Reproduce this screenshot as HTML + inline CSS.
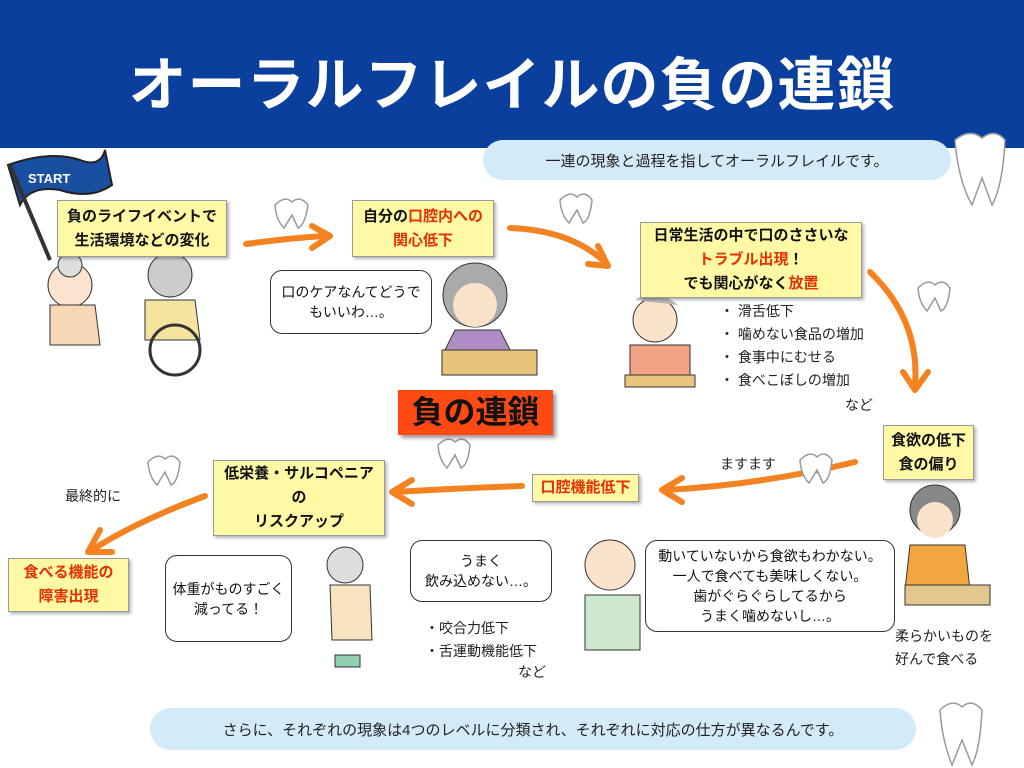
<!DOCTYPE html>
<html><head><meta charset="utf-8"><style>
body{margin:0;width:1024px;height:768px;position:relative;background:#fff;font-family:"Liberation Sans","Noto Sans CJK JP",sans-serif;overflow:hidden}
.hdr{position:absolute;left:0;top:0;width:1024px;height:148px;background:#0b3f9d}
.title{position:absolute;left:0;top:38px;width:1024px;text-align:center;color:#fff;font-size:58px;font-weight:bold;letter-spacing:1px}
.pill{position:absolute;background:#d3ebf8;border-radius:22px;font-size:15px;color:#222;display:flex;align-items:center;justify-content:center}
.yb{position:absolute;background:#fff9a6;border:1px solid #999;box-shadow:2px 2px 3px rgba(0,0,0,.3);font-size:15px;font-weight:bold;text-align:center;line-height:24px;display:flex;flex-direction:column;justify-content:center;color:#111}
.r{color:#e53000}
.sp{position:absolute;background:#fff;border:1.5px solid #333;border-radius:12px;font-size:14px;text-align:center;display:flex;flex-direction:column;justify-content:center;line-height:20px;color:#111}
.t{position:absolute;font-size:14px;color:#222;line-height:23px}
</style></head><body>
<div class="hdr"></div>
<div class="title">オーラルフレイルの負の連鎖</div>
<div class="pill" style="left:483px;top:140px;width:468px;height:40px">一連の現象と過程を指してオーラルフレイルです。</div>
<div class="pill" style="left:150px;top:708px;width:766px;height:42px">さらに、それぞれの現象は4つのレベルに分類され、それぞれに対応の仕方が異なるんです。</div>

<svg width="1024" height="768" style="position:absolute;left:0;top:0">
<g fill="none" stroke="#f58220" stroke-width="6" stroke-linecap="round" stroke-linejoin="round">
<path d="M246 244 Q290 238 325 236"/><path d="M312 226 L330 236 L312 248"/>
<path d="M510 228 Q570 230 605 262"/><path d="M598 246 L608 266 L588 264"/>
<path d="M870 272 Q920 320 915 385"/><path d="M903 372 L915 390 L928 372"/>
<path d="M855 462 Q760 485 665 490"/><path d="M682 478 L662 490 L682 502"/>
<path d="M522 486 Q460 488 395 492"/><path d="M412 480 L392 492 L412 504"/>
<path d="M205 496 Q140 520 95 548"/><path d="M100 530 L88 552 L112 552"/>
</g>
<!-- flag -->
<path d="M8 165 Q50 150 80 160 Q100 168 105 150 L112 185 Q90 200 60 190 Q30 185 20 205 Z" fill="#1a4fa0" stroke="#222" stroke-width="2"/>
<line x1="10" y1="165" x2="50" y2="260" stroke="#333" stroke-width="4"/>
<text x="28" y="183" fill="#fff" font-size="13" font-weight="bold" font-family="Liberation Sans">START</text>
<!-- people approximations -->
<circle cx="70" cy="285" r="22" fill="#fbe4cf" stroke="#333"/><circle cx="70" cy="265" r="12" fill="#ddd" stroke="#333"/>
<path d="M50 305 L95 305 L100 345 L50 345Z" fill="#f6d8b4" stroke="#333"/>
<circle cx="170" cy="275" r="22" fill="#ccc" stroke="#333"/><path d="M145 300 L195 300 L200 340 L145 340Z" fill="#f5e3a0" stroke="#333"/>
<circle cx="175" cy="350" r="25" fill="none" stroke="#333" stroke-width="3"/>
<circle cx="475" cy="295" r="32" fill="#aaa" stroke="#333"/><circle cx="475" cy="305" r="22" fill="#fbe2cb"/>
<path d="M455 330 L500 330 L510 350 L445 350Z" fill="#b08cc4" stroke="#333"/>
<rect x="442" y="350" width="95" height="25" fill="#e6c27a" stroke="#333"/>
<circle cx="655" cy="320" r="22" fill="#fbe2cb" stroke="#333"/><path d="M635 300 Q655 285 678 305" fill="#bbb"/>
<rect x="630" y="345" width="60" height="35" fill="#f3a285" stroke="#333"/>
<rect x="625" y="375" width="70" height="12" fill="#e9c57c" stroke="#333"/>
<circle cx="610" cy="565" r="25" fill="#fbe2cb" stroke="#333"/><path d="M585 595 L640 595 L640 650 L585 650Z" fill="#cde8cf" stroke="#333"/>
<circle cx="345" cy="565" r="18" fill="#ddd" stroke="#333"/><path d="M330 585 L370 585 L372 640 L332 640Z" fill="#f6e3c0" stroke="#333"/>
<rect x="335" y="655" width="25" height="12" fill="#8fd0b0" stroke="#333"/>
<circle cx="935" cy="510" r="25" fill="#888" stroke="#333"/><circle cx="935" cy="520" r="18" fill="#fbe2cb"/>
<path d="M910 545 L965 545 L970 590 L905 590Z" fill="#f2a640" stroke="#333"/>
<rect x="905" y="585" width="85" height="20" fill="#e2c88e" stroke="#333"/>
<!-- teeth -->
<g fill="#fff" stroke="#999" stroke-width="1.5">
<path d="M275 205 Q285 195 292 202 Q300 195 308 205 Q305 225 298 228 L292 215 L284 228 Q276 220 275 205Z"/>
<path d="M560 200 Q570 190 577 197 Q585 190 592 200 Q590 220 583 223 L577 210 L569 223 Q561 215 560 200Z"/>
<path d="M918 288 Q928 278 935 285 Q943 278 950 288 Q948 308 941 311 L935 298 L927 311 Q919 303 918 288Z"/>
<path d="M800 460 Q810 450 817 457 Q825 450 832 460 Q830 480 823 483 L817 470 L809 483 Q801 475 800 460Z"/>
<path d="M438 445 Q448 435 455 442 Q463 435 470 445 Q468 465 461 468 L455 455 L447 468 Q439 460 438 445Z"/>
<path d="M148 462 Q158 452 165 459 Q173 452 180 462 Q178 482 171 485 L165 472 L157 485 Q149 477 148 462Z"/>
<path d="M955 140 Q970 128 982 138 Q995 128 1005 140 Q1003 185 992 205 L982 178 L972 205 Q958 180 955 140Z"/>
<path d="M940 710 Q952 698 962 707 Q972 698 982 710 Q980 750 972 765 L962 740 L952 765 Q942 740 940 710Z"/>
</g>
</svg>

<div class="yb" style="left:57px;top:200px;width:168px;height:55px"><div>負のライフイベントで</div><div>生活環境などの変化</div></div>
<div class="yb" style="left:352px;top:200px;width:140px;height:55px"><div>自分の<span class="r">口腔内への</span></div><div class="r">関心低下</div></div>
<div class="yb" style="left:640px;top:222px;width:220px;height:74px"><div>日常生活の中で口のささいな</div><div><span class="r">トラブル出現</span>！</div><div>でも関心がなく<span class="r">放置</span></div></div>
<div class="yb" style="left:883px;top:425px;width:89px;height:53px"><div>食欲の低下</div><div>食の偏り</div></div>
<div class="yb" style="left:532px;top:474px;width:105px;height:26px;color:#e53000">口腔機能低下</div>
<div class="yb" style="left:213px;top:460px;width:170px;height:74px"><div>低栄養・サルコペニア</div><div>の</div><div>リスクアップ</div></div>
<div class="yb" style="left:8px;top:558px;width:119px;height:52px;color:#e53000"><div>食べる機能の</div><div>障害出現</div></div>
<div style="position:absolute;left:398px;top:390px;width:155px;height:45px;background:#ff4a14;box-shadow:3px 3px 4px rgba(0,0,0,.4);font-size:32px;font-weight:bold;text-align:center;line-height:45px;color:#111">負の連鎖</div>

<div class="sp" style="left:270px;top:270px;width:160px;height:62px"><div>口のケアなんてどうで</div><div>もいいわ…。</div></div>
<div class="sp" style="left:410px;top:540px;width:140px;height:60px"><div>うまく</div><div>飲み込めない…。</div></div>
<div class="sp" style="left:645px;top:540px;width:248px;height:90px"><div>動いていないから食欲もわかない。</div><div>一人で食べても美味しくない。</div><div>歯がぐらぐらしてるから</div><div>うまく噛めないし…。</div></div>
<div class="sp" style="left:165px;top:555px;width:125px;height:85px"><div>体重がものすごく</div><div>減ってる！</div></div>

<div class="t" style="left:720px;top:300px">・ 滑舌低下<br>・ 噛めない食品の増加<br>・ 食事中にむせる<br>・ 食べこぼしの増加</div>
<div class="t" style="left:845px;top:394px">など</div>
<div class="t" style="left:720px;top:453px">ますます</div>
<div class="t" style="left:65px;top:485px">最終的に</div>
<div class="t" style="left:425px;top:617px">・咬合力低下<br>・舌運動機能低下</div>
<div class="t" style="left:518px;top:661px">など</div>
<div class="t" style="left:895px;top:625px">柔らかいものを<br>好んで食べる</div>
</body></html>
